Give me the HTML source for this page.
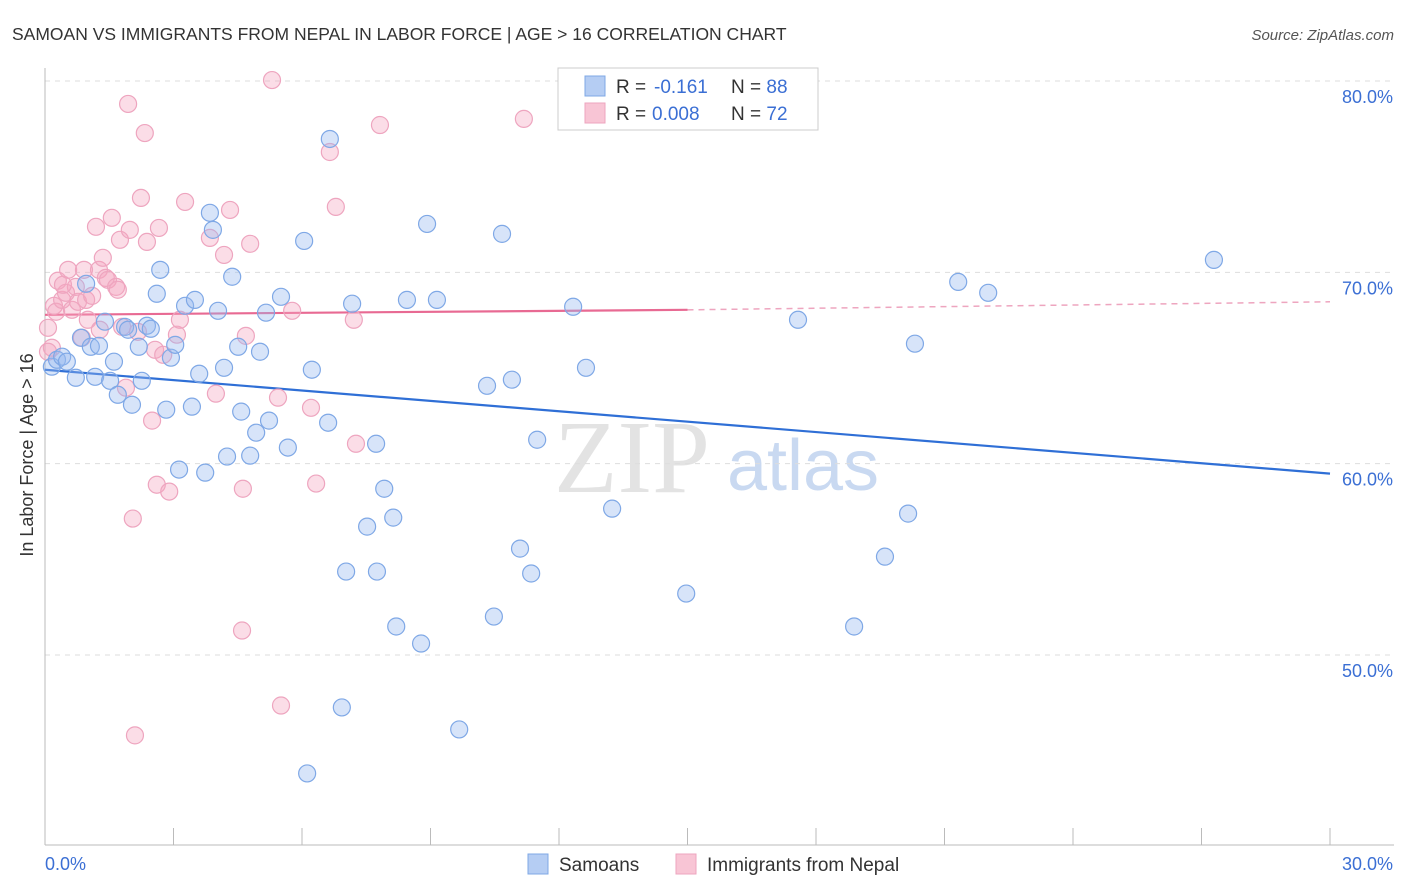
<!DOCTYPE html>
<html><head><meta charset="utf-8">
<style>
body{margin:0;background:#fff;font-family:"Liberation Sans",sans-serif;}
#wrap{position:relative;width:1406px;height:892px;overflow:hidden;}
</style></head>
<body>
<div id="wrap">
<svg id="chart" width="1406" height="892" xmlns="http://www.w3.org/2000/svg">
<text x="12" y="40" font-size="17.5" fill="#333">SAMOAN VS IMMIGRANTS FROM NEPAL IN LABOR FORCE | AGE &gt; 16 CORRELATION CHART</text>
<text x="1394" y="40" font-size="15" fill="#555" font-style="italic" text-anchor="end">Source: ZipAtlas.com</text>
<text x="0" y="0" font-size="18" fill="#333" text-anchor="middle" transform="translate(33,455) rotate(-90)">In Labor Force | Age &gt; 16</text>
<g>
<text x="632" y="492" font-size="104" fill="#ddd" font-family="Liberation Serif,serif" text-anchor="middle" opacity="0.8">ZIP</text>
<text x="803" y="490" font-size="72" fill="#bcd0ee" text-anchor="middle" opacity="0.8">atlas</text>
</g>
<g id="grid"></g>
<g id="axes"></g>
<g id="trends"></g>
<g id="points"></g>
<g>
<rect x="558" y="68" width="260" height="62" fill="#fff" stroke="#ccc"/>
<rect x="585" y="76" width="20" height="20" fill="#b5cdf3" stroke="#7fa8e6"/>
<rect x="585" y="103" width="20" height="20" fill="#f8c5d5" stroke="#eea5bf"/>
<text x="616" y="93" font-size="19" fill="#333">R = <tspan fill="#3b6fd4" x="654">-0.161</tspan></text>
<text x="731" y="93" font-size="19" fill="#333">N = <tspan fill="#3b6fd4">88</tspan></text>
<text x="616" y="120" font-size="19" fill="#333">R = <tspan fill="#3b6fd4" x="652">0.008</tspan></text>
<text x="731" y="120" font-size="19" fill="#333">N = <tspan fill="#3b6fd4">72</tspan></text>
</g>
<g>
<rect x="528" y="854" width="20" height="20" fill="#b5cdf3" stroke="#7fa8e6"/>
<text x="559" y="871" font-size="19" fill="#333">Samoans</text>
<rect x="676" y="854" width="20" height="20" fill="#f8c5d5" stroke="#eea5bf"/>
<text x="707" y="871" font-size="19" fill="#333">Immigrants from Nepal</text>
</g>
</svg>
</div>
<script>
const xTickLabels=["0.0%","30.0%"];
const yTicks=[50,60,70,80];
const yTickLabels=["50.0%","60.0%","70.0%","80.0%"];
const samoanX=[0.16,0.28,0.40,0.51,0.72,0.84,0.96,1.07,1.17,1.26,1.40,1.52,1.61,1.70,1.87,1.94,2.03,2.19,2.26,2.38,2.47,2.69,2.61,2.83,2.94,3.04,3.13,3.27,3.43,3.50,3.60,3.74,3.85,3.92,4.04,4.18,4.25,4.37,4.51,4.58,4.79,4.93,5.02,5.16,5.23,5.51,5.67,6.05,6.23,6.61,6.65,7.03,6.93,7.17,7.52,7.75,7.73,7.92,8.13,8.20,8.45,8.78,8.92,9.15,9.67,10.32,10.48,10.67,10.90,11.09,11.35,11.49,12.33,12.63,13.24,14.97,17.58,18.89,19.61,20.15,20.31,21.32,22.02,27.29,6.12];
const samoanY=[65.07,65.43,65.59,65.33,64.49,66.58,69.40,66.11,64.54,66.16,67.42,64.33,65.33,63.60,67.15,67.00,63.08,66.11,64.33,67.21,67.05,70.13,68.88,62.82,65.54,66.21,59.69,68.25,62.98,68.56,64.70,59.53,73.11,72.22,67.99,65.01,60.37,69.77,66.11,62.72,60.42,61.62,65.85,67.89,62.25,68.72,60.84,71.64,64.91,62.14,76.97,54.36,47.26,68.36,56.71,54.36,61.04,58.69,57.18,51.49,68.56,50.60,72.53,68.56,46.11,64.07,52.01,72.01,64.39,55.56,54.26,61.25,68.20,65.01,57.65,53.21,67.52,51.49,55.14,57.39,66.27,69.50,68.93,70.65,43.81];
const nepalX=[0.07,0.16,0.21,0.26,0.30,0.40,0.49,0.54,0.63,0.72,0.77,0.86,0.96,1.00,1.10,1.19,1.26,1.35,1.42,1.47,1.56,1.66,1.70,1.75,1.80,1.89,1.94,1.98,2.05,2.10,2.17,2.24,2.33,2.38,2.50,2.57,2.61,2.66,2.76,2.90,3.08,3.15,3.27,3.85,3.99,4.18,4.32,4.60,4.62,4.69,4.79,5.30,5.44,5.51,5.77,6.21,6.33,6.65,6.79,7.21,7.26,7.82,11.18,0.07,0.42,0.91,1.28];
const nepalY=[67.10,66.06,68.25,67.94,69.56,68.56,68.93,70.13,68.04,69.24,68.46,66.58,68.56,67.52,68.77,72.38,70.13,70.76,69.71,69.61,72.85,69.24,69.09,71.70,67.15,63.97,78.80,72.22,57.13,45.80,66.89,73.89,77.28,71.59,62.25,65.95,58.90,72.32,65.69,58.54,66.74,67.52,73.68,71.80,63.66,70.91,73.26,51.28,58.69,66.68,71.49,80.05,63.45,47.36,67.99,62.92,58.96,76.29,73.42,67.52,61.04,77.70,78.02,65.85,69.35,70.13,67.00];
const samoanTrendY=[64.91,59.48];
const nepalTrendY=[67.78,68.04,68.46];

const NS="http://www.w3.org/2000/svg";
const X0=45,X1=1330,Y80=81,Y50=655;
function sx(v){return X0+(v/30)*(X1-X0);}
function sy(v){return Y80+(80-v)*(Y50-Y80)/30;}
function mk(tag,attrs,parent){const e=document.createElementNS(NS,tag);for(const k in attrs)e.setAttribute(k,attrs[k]);parent.appendChild(e);return e;}
const grid=document.getElementById('grid'),axes=document.getElementById('axes');
yTicks.forEach((t,i)=>{
  const l=mk('line',{x1:X0,x2:1394,y1:sy(t),y2:sy(t),stroke:'#ddd','stroke-dasharray':'5,5'},grid);
  
  
  const tx=mk('text',{x:1393,y:sy(t)+22,'font-size':18,fill:'#3b6fd4','text-anchor':'end'},axes);
  tx.textContent=yTickLabels[i];
  
  
});
const ya=mk('line',{x1:X0,x2:X0,y1:68,y2:845,stroke:'#bbb'},axes);


const xa=mk('line',{x1:X0,x2:1394,y1:845,y2:845,stroke:'#bbb'},axes);


for(let i=0;i<=10;i++){
  const tk=mk('line',{x1:sx(i*3),x2:sx(i*3),y1:828,y2:845,stroke:'#bbb'},axes);
  
  
}
const xl0=mk('text',{x:45,y:870,'font-size':18,fill:'#3b6fd4'},axes);
xl0.textContent=xTickLabels[0];


const xl1=mk('text',{x:1393,y:870,'font-size':18,fill:'#3b6fd4','text-anchor':'end'},axes);
xl1.textContent=xTickLabels[1];



const pts=document.getElementById('points');
function drawPts(xs,ys,fill,stroke,name){
  xs.forEach((x,i)=>{
    const c=mk('circle',{cx:sx(x),cy:sy(ys[i]),r:8.5,fill:fill,stroke:stroke,'stroke-width':1.2},pts);
    
    
  });
}
drawPts(nepalX,nepalY,'rgba(245,165,192,0.38)','#eea5bf','nepal-point');
drawPts(samoanX,samoanY,'rgba(150,185,240,0.38)','#7fa8e6','samoan-point');

const tr=document.getElementById('trends');
const bt=mk('line',{x1:sx(0),y1:sy(samoanTrendY[0]),x2:sx(30),y2:sy(samoanTrendY[1]),stroke:'#2f6fd6','stroke-width':2.2},tr);


const pt=mk('line',{x1:sx(0),y1:sy(nepalTrendY[0]),x2:sx(15),y2:sy(nepalTrendY[1]),stroke:'#e86a93','stroke-width':2.2},tr);


const pd=mk('line',{x1:sx(15),y1:sy(nepalTrendY[1]),x2:sx(30),y2:sy(nepalTrendY[2]),stroke:'#eea5bf','stroke-width':1.5,'stroke-dasharray':'6,5'},tr);


</script>
</body></html>
